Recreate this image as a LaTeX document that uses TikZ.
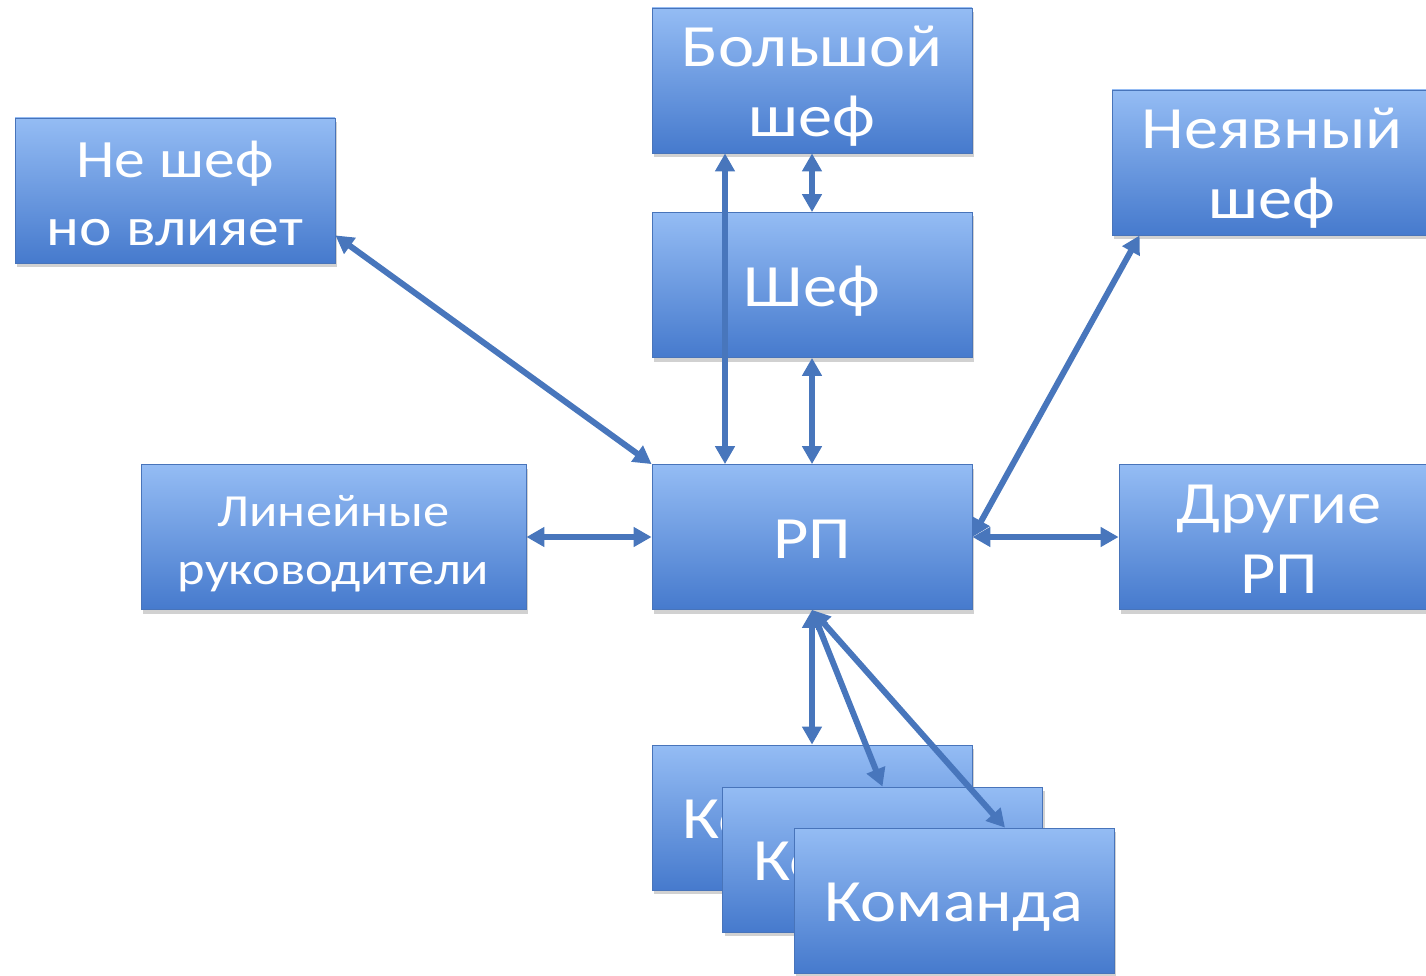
\documentclass[tikz,border=0pt]{standalone}
\usepackage{fontspec}
\setmainfont{Carlito}[FakeStretch=1.14]
\usetikzlibrary{shadows,arrows.meta,calc}
\definecolor{boxtop}{RGB}{148,188,244}
\definecolor{boxbot}{RGB}{70,122,205}
\definecolor{boxline}{RGB}{72,116,186}
\definecolor{arr}{RGB}{72,118,188}
\newcommand{\boxtext}[1]{\raisebox{-7pt}[\height][\depth]{\begin{tabular}{@{}c@{}}#1\end{tabular}}}
\begin{document}
\begin{tikzpicture}[x=1pt,y=-1pt,
  box/.style={draw=boxline, line width=0.8pt, top color=boxtop, bottom color=boxbot,
    minimum width=320pt, minimum height=145pt, inner sep=0pt, align=center, text=white,
    font=\fontsize{60}{70}\selectfont,
    drop shadow={shadow xshift=2pt, shadow yshift=-4pt, opacity=0.3, fill=black!60}},
  link/.style={draw=arr, line width=6pt, {Triangle[length=18pt,width=19pt]}-{Triangle[length=18pt,width=19pt]}}]
\useasboundingbox (0,0) rectangle (1426,976);
\clip (0,0) rectangle (1426,976);
\node[box] (big) at (812,80.5) {\boxtext{Большой\\шеф}};
\node[box, font=\fontsize{54}{68}\selectfont] (ne) at (175,190.5) {\boxtext{Не шеф\\но влияет}};
\node[box] (nyav) at (1272,162.5) {\boxtext{Неявный\\шеф}};
\node[box] (chef) at (812,285) {\boxtext{Шеф}};
\node[box, minimum width=385pt, font=\fontsize{46}{58}\selectfont] (lin) at (333.5,537) {\boxtext{Линейные\\руководители}};
\node[box] (rp) at (812,537) {\boxtext{РП}};
\node[box] (drp) at (1279,537) {\boxtext{Другие\\РП}};
\node[box] (k1) at (812,817.5) {\boxtext{Команда}};
\node[box] (k2) at (882.5,859.5) {\boxtext{Команда}};
\node[box] (k3) at (954,900.5) {\boxtext{Команда}};
\draw[link] ([xshift=-87pt]big.south) -- ([xshift=-87pt]rp.north);
\draw[link] (big.south) -- (chef.north);
\draw[link] (chef.south) -- (rp.north);
\draw[link] ([yshift=28pt]ne.south east) -- (rp.north west);
\draw[link] ([xshift=28pt]nyav.south west) -- (rp.east);
\draw[link] (rp.east) -- (drp.west);
\draw[link] (lin.east) -- (rp.west);
\draw[link] (rp.south) -- (k1.north);
\draw[link] (rp.south) -- (k2.north);
\draw[link] (rp.south) -- ([xshift=51pt]k3.north);
\end{tikzpicture}
\end{document}
